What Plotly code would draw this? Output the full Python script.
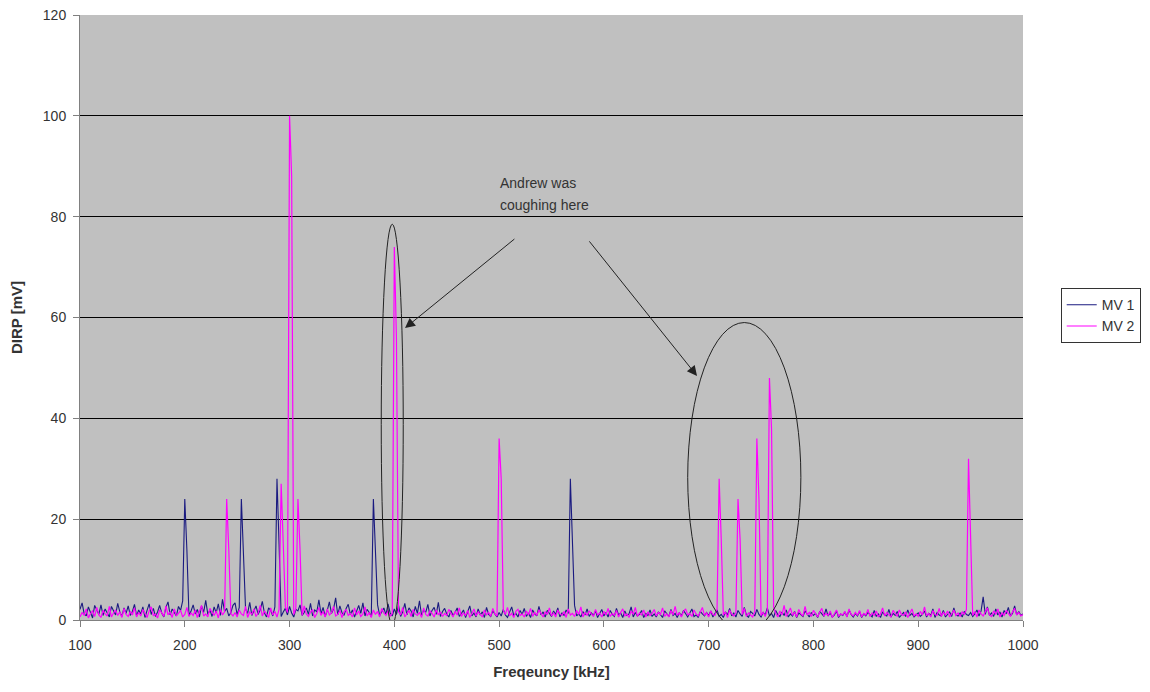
import plotly.graph_objects as go

# ---------------- data ----------------
freq_start, freq_step, n_points = 100, 2, 451
freqs = [freq_start + freq_step * i for i in range(n_points)]

mv1_noise = [
    2.1,3.4,1.2,0.8,2.6,1.5,0.4,2.9,1.8,1.1,3.0,0.9,2.2,1.4,0.6,2.7,1.9,1.0,3.3,1.6,0.7,2.4,1.3,2.8,0.9,
    1.7,3.1,0.8,2.0,1.2,2.6,0.5,1.9,3.2,1.1,2.3,0.7,1.6,2.9,1.4,0.6,2.5,3.6,1.0,2.2,1.5,0.8,2.7,1.9,3.8,
    1.3,2.4,0.9,1.8,3.0,1.2,2.1,0.6,2.8,1.5,3.9,1.1,2.0,0.7,2.6,1.4,3.2,0.9,4.1,1.7,2.3,0.8,1.5,2.9,3.4,
    1.0,2.5,1.8,0.7,2.2,1.3,3.5,0.9,1.7,2.8,1.1,2.0,3.7,1.4,0.6,2.4,1.9,0.8,2.6,1.2,3.1,0.7,1.6,2.3,1.0,
    2.7,1.4,0.6,2.1,1.8,3.0,0.9,1.5,2.4,1.1,3.3,0.8,2.0,1.6,4.0,1.2,2.5,0.7,1.9,3.6,1.3,2.2,4.4,1.0,2.8,
    1.5,0.9,2.3,3.1,1.1,2.0,0.6,1.7,2.9,1.3,3.4,0.8,2.1,1.5,0.7,2.6,1.2,3.0,0.9,1.8,2.4,1.0,3.2,1.4,0.8,
    2.2,1.1,2.9,0.7,1.6,3.3,1.0,2.4,1.8,0.6,2.7,1.3,3.8,0.9,2.0,1.5,3.1,0.8,1.9,2.5,1.1,3.5,0.7,1.7,2.3,
    1.2,0.6,1.9,0.9,1.5,2.4,0.7,1.3,2.0,0.5,1.7,2.8,0.8,1.4,0.6,2.2,1.0,1.6,0.5,2.5,1.1,0.7,1.8,1.3,0.6,
    1.5,0.8,2.1,1.0,0.5,1.7,2.6,0.9,1.3,0.6,1.9,1.1,2.3,0.7,1.4,0.5,2.0,1.2,0.8,2.7,1.0,1.6,0.6,1.9,1.2,
    0.7,1.8,1.1,2.4,0.6,1.4,0.9,2.0,1.3,0.5,1.6,2.9,0.8,1.2,0.6,1.7,1.0,2.2,0.7,1.4,0.9,1.8,0.5,1.3,2.1,
    0.8,1.5,0.6,1.9,1.1,0.7,2.3,1.0,1.4,0.5,1.8,0.9,1.2,2.6,0.6,1.5,0.8,1.1,1.9,0.5,1.3,0.9,2.0,0.7,1.2,
    0.6,1.6,1.0,0.5,1.8,1.2,0.7,2.1,0.9,1.3,0.5,1.5,0.8,1.9,1.1,0.6,1.4,2.2,0.7,1.0,0.5,1.7,1.2,0.8,1.5,
    0.9,1.8,0.6,1.3,2.0,0.7,1.1,0.5,1.6,1.0,2.3,0.8,1.4,0.6,1.9,1.2,0.7,2.5,1.0,0.5,1.7,1.3,0.8,2.1,1.1,
    0.6,1.5,1.0,2.4,0.8,1.3,0.5,1.9,1.1,0.7,1.6,0.9,2.0,0.6,1.2,0.8,1.7,0.5,1.4,1.0,0.7,1.8,1.2,0.6,1.5,
    0.9,1.3,0.5,1.7,1.1,0.7,2.2,0.8,1.4,0.6,1.0,1.8,0.5,1.2,0.9,1.6,0.7,2.0,1.1,0.6,1.3,0.8,1.7,0.5,1.2,
    0.8,1.5,1.0,0.6,1.9,0.7,1.2,0.5,1.6,1.0,0.8,2.1,0.6,1.3,0.9,1.7,0.5,1.1,1.5,0.7,2.0,0.9,1.3,0.6,1.0,
    1.4,0.7,1.1,1.8,0.6,1.3,0.9,2.2,0.5,1.5,1.0,0.8,1.9,0.6,1.2,1.6,0.7,2.4,1.0,0.8,1.4,0.6,1.7,1.1,0.9,
    1.5,0.7,1.2,2.0,0.8,1.8,4.6,1.1,2.6,0.9,1.4,0.7,2.2,1.0,1.6,0.6,1.9,1.2,2.5,0.8,1.3,2.8,1.0,1.7,0.9,
    1.2,
]

mv2_noise = [
    0.6,1.5,0.9,2.2,0.4,1.3,1.8,0.7,2.5,1.0,0.5,1.9,1.2,0.8,2.7,0.6,1.4,2.0,0.9,1.6,0.5,2.3,1.1,0.7,1.7,
    1.0,2.4,0.6,1.5,0.8,2.1,1.3,0.5,1.8,2.6,0.9,1.2,0.4,2.0,1.4,0.7,2.8,1.0,1.6,0.5,2.2,0.8,1.3,1.9,0.6,
    1.1,2.5,0.7,1.4,0.9,2.0,0.5,1.7,2.9,0.8,1.2,0.6,2.3,1.5,0.9,1.8,0.4,2.1,1.0,1.6,0.7,2.6,1.3,0.8,1.5,
    0.6,2.0,1.2,0.9,2.7,0.5,1.6,1.1,2.2,0.7,1.4,2.9,0.8,1.8,1.2,0.5,2.4,1.0,1.7,0.6,2.1,1.3,0.9,2.6,1.5,
    0.8,1.9,1.1,2.3,0.6,1.5,0.9,2.8,1.2,0.7,1.6,2.0,0.5,1.3,2.5,0.9,1.7,0.6,2.2,1.0,1.4,2.7,0.8,1.1,1.9,
    0.5,1.6,2.1,0.9,1.3,0.6,2.4,1.0,1.8,0.7,1.2,2.6,0.8,1.5,0.5,2.0,1.1,1.7,0.6,2.3,1.4,0.9,1.9,0.7,1.3,
    2.2,0.8,1.6,1.0,2.5,0.6,1.4,1.9,0.7,2.1,1.2,0.9,1.5,0.5,2.4,1.1,0.8,1.8,1.3,0.6,2.0,1.0,1.6,0.7,1.3,
    0.9,2.1,1.2,0.6,1.7,1.0,2.4,0.7,1.4,0.9,1.9,0.5,1.3,2.2,0.8,1.6,1.1,0.6,2.0,1.0,1.5,0.7,2.3,1.2,0.8,
    1.4,0.6,1.9,1.1,2.5,0.8,1.3,0.5,1.7,2.1,0.9,1.2,0.6,1.8,1.0,2.3,0.7,1.5,0.9,2.0,1.3,0.6,1.6,1.1,2.4,
    0.8,1.4,0.6,2.0,1.2,0.9,1.7,0.5,2.2,1.0,1.3,0.7,1.9,1.1,2.6,0.6,1.5,0.9,1.8,1.2,0.7,2.1,1.0,1.4,0.6,
    1.7,1.0,2.3,0.7,1.3,0.9,1.9,0.6,1.5,2.2,0.8,1.2,0.5,1.8,1.1,2.5,0.7,1.4,1.0,2.0,0.6,1.6,0.9,1.3,2.1,
    0.8,1.5,1.1,2.4,0.7,1.2,0.6,1.9,1.0,2.7,0.9,1.4,0.6,1.7,2.2,1.0,1.3,0.7,2.0,1.2,0.8,1.6,2.5,0.9,1.4,
    0.6,1.8,1.1,0.9,2.1,0.7,1.3,1.0,1.6,0.5,2.0,1.2,0.8,1.5,0.6,1.9,1.1,2.3,0.7,1.4,1.0,0.6,1.7,1.2,2.2,
    0.9,1.5,0.7,2.0,1.1,0.8,2.6,1.3,0.6,1.8,1.0,2.9,0.7,1.4,2.4,0.9,1.6,0.6,2.1,1.2,0.8,2.7,1.0,1.5,0.7,
    1.9,1.1,0.6,1.6,2.3,0.8,1.3,0.9,1.8,0.5,1.4,2.0,0.7,1.2,1.0,1.7,0.6,2.2,1.1,0.8,1.5,0.9,1.9,0.6,1.3,
    1.0,2.1,0.7,1.4,0.9,1.8,0.6,1.2,2.4,0.8,1.5,1.0,0.6,1.9,1.3,0.7,2.0,1.1,0.9,1.6,0.5,1.4,2.2,0.8,1.2,
    0.7,1.7,1.0,2.6,0.8,1.3,0.6,1.9,1.1,0.9,2.3,0.7,1.5,1.0,1.8,0.6,1.2,2.0,0.9,1.4,0.7,1.6,1.1,2.1,0.8,
    1.3,0.9,1.7,0.6,2.0,1.2,0.8,1.5,2.4,1.0,0.7,1.8,1.1,2.2,0.6,1.4,0.9,1.9,1.2,0.7,1.6,2.3,1.0,1.5,0.8,
    1.1,
]

# spectral peaks (frequency kHz, peak mV, shoulder mV)
mv1_peak_freqs = [200, 254, 288, 380, 568]
mv1_peak_vals = [24, 24, 28, 24, 28]
mv1_shoulder_vals = [14, 13.5, 15, 14, 15]

mv2_peak_freqs = [240, 292, 300, 308, 400, 500, 710, 728, 746, 758, 948]
mv2_peak_vals = [24, 27, 100, 24, 74, 36, 28, 24, 36, 48, 32]
mv2_shoulder_vals = [14, 15, 88, 14, 56, 28, 16, 16, 24, 38, 16]


def build_series(noise, pf, pv, sv):
    y = list(noise)
    for f, p, s in zip(pf, pv, sv):
        i = freqs.index(f)
        y[i] = p
        if i + 1 < len(y):
            y[i + 1] = s
    return y


mv1 = build_series(mv1_noise, mv1_peak_freqs, mv1_peak_vals, mv1_shoulder_vals)
mv2 = build_series(mv2_noise, mv2_peak_freqs, mv2_peak_vals, mv2_shoulder_vals)

# ---------------- figure ----------------
FONT = "Liberation Sans, Arial, sans-serif"
ink = "#333333"

fig = go.Figure()
fig.add_trace(go.Scatter(x=freqs, y=mv1, mode="lines", name="MV 1",
                         line=dict(color="#1a1a80", width=1.1)))
fig.add_trace(go.Scatter(x=freqs, y=mv2, mode="lines", name="MV 2",
                         line=dict(color="#ff00ff", width=1.2)))

fig.update_layout(
    width=1150, height=692,
    margin=dict(l=80, r=127, t=15, b=72, autoexpand=False),
    paper_bgcolor="white",
    plot_bgcolor="#c0c0c0",
    font=dict(family=FONT, size=14, color=ink),
    showlegend=True,
    legend=dict(x=1.040, y=0.503, xanchor="left", yanchor="middle",
                bgcolor="white", bordercolor="#333333", borderwidth=1,
                font=dict(family=FONT, size=14, color=ink),
                itemwidth=30, tracegroupgap=0),
    xaxis=dict(range=[100, 1000], tickmode="array",
               tickvals=[100, 200, 300, 400, 500, 600, 700, 800, 900, 1000],
               showgrid=False, zeroline=False, automargin=False,
               showline=True, linecolor="#808080", linewidth=1, mirror=False,
               ticks="outside", ticklen=6, tickcolor="#808080",
               ticklabelstandoff=6,
               tickfont=dict(family=FONT, size=14, color=ink),
               title=dict(text="<b>Freqeuncy [kHz]</b>", standoff=14,
                          font=dict(family=FONT, size=15, color=ink))),
    yaxis=dict(range=[0, 120], tickmode="array",
               tickvals=[0, 20, 40, 60, 80, 100, 120],
               showgrid=True, gridcolor="#000000", gridwidth=1, zeroline=False,
               automargin=False,
               showline=True, linecolor="#808080", linewidth=1,
               ticks="outside", ticklen=6, tickcolor="#808080",
               ticklabelstandoff=4,
               tickfont=dict(family=FONT, size=14, color=ink),
               title=dict(text="<b>DIRP [mV]</b>", standoff=16,
                          font=dict(family=FONT, size=15, color=ink))),
)

# ellipses highlighting the cough artifacts
fig.add_shape(type="circle", xref="x", yref="y", x0=387.5, x1=408.5, y0=-1, y1=78.5,
              line=dict(color="#222222", width=1), layer="above")
fig.add_shape(type="circle", xref="x", yref="y", x0=680, x1=788, y0=-2.4, y1=59,
              line=dict(color="#222222", width=1), layer="above")

# annotation text and arrows
fig.add_annotation(x=499, y=86.7, xref="x", yref="y", showarrow=False,
                   xanchor="left", yanchor="middle", text="Andrew was",
                   font=dict(family=FONT, size=14, color=ink))
fig.add_annotation(x=499, y=82.3, xref="x", yref="y", showarrow=False,
                   xanchor="left", yanchor="middle", text="coughing here",
                   font=dict(family=FONT, size=14, color=ink))
fig.add_annotation(x=410.2, y=57.9, ax=516, ay=75.8, xref="x", yref="y",
                   axref="x", ayref="y", text="", showarrow=True,
                   arrowhead=2, arrowsize=2, arrowwidth=1, arrowcolor="#222222")
fig.add_annotation(x=688.9, y=48.4, ax=585, ay=75.4, xref="x", yref="y",
                   axref="x", ayref="y", text="", showarrow=True,
                   arrowhead=2, arrowsize=2, arrowwidth=1, arrowcolor="#222222")

fig.write_html("out.html")
